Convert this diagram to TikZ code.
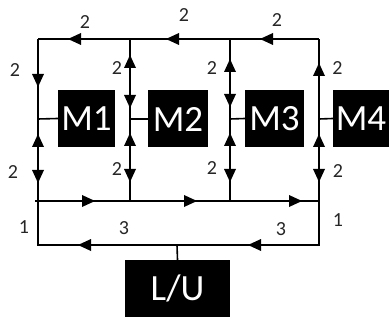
\documentclass[tikz,border=0pt]{standalone}
\usepackage{fontspec}
\setmainfont{Carlito}
\begin{document}
\begin{tikzpicture}[x=1pt,y=-1pt,
  wire/.style={line width=1.6pt,black},
  mbox/.style={fill=black,text=white,inner sep=0pt,minimum height=57pt,font=\fontsize{37}{37}\selectfont},
  lbl/.style={font=\fontsize{20}{20}\selectfont,text=black!85,inner sep=0pt},
  arrR/.pic={\fill (0,0) -- (-13,-6) -- (-13,6) -- cycle;},
  arrL/.pic={\fill (0,0) -- (13,-6) -- (13,6) -- cycle;},
  arrD/.pic={\fill (0,0) -- (-6,-13) -- (6,-13) -- cycle;},
  arrU/.pic={\fill (0,0) -- (-6,13) -- (6,13) -- cycle;}]
\useasboundingbox (0,0) rectangle (390,320);
% junction coordinates
\coordinate (t1) at (38,39);
\coordinate (t2) at (130,39);
\coordinate (t3) at (230,39);
\coordinate (t4) at (319,39);
\coordinate (m0) at (35,201);
\coordinate (m1) at (38,201);
\coordinate (m2) at (130,201);
\coordinate (m3) at (230,201);
\coordinate (m4) at (319,201);
\coordinate (b1) at (38,245);
\coordinate (bu) at (177,245);
\coordinate (b4) at (319,245);
\coordinate (s1) at (38,119);
\coordinate (s2) at (130,119);
\coordinate (s3) at (230,119);
\coordinate (s4) at (319,119);
% boxes
\node[mbox,minimum width=57pt] (M1) at (86.5,118.5) {M1};
\node[mbox,minimum width=60pt] (M2) at (178,119) {M2};
\node[mbox,minimum width=59pt] (M3) at (274.5,118.5) {M3};
\node[mbox,minimum width=56pt] (M4) at (361,118.5) {M4};
\node[mbox,minimum width=105pt] (LU) at (177.5,288.5) {L/U};
% wires
\draw[wire] (t1) -- (t4);
\draw[wire] (t1) -- (b1) -- (b4) -- (t4);
\draw[wire] (m0) -- (m4);
\draw[wire] (t2) -- (m2);
\draw[wire] (t3) -- (m3);
\draw[wire] (s1) -- (M1.west);
\draw[wire] (s2) -- (M2.west);
\draw[wire] (s3) -- (M3.west);
\draw[wire] (s4) -- (M4.west);
\draw[wire] (bu) -- (LU.north);
\draw[line width=2.6pt] (130,62) -- (130,96);
% arrows top line
\pic at (68,39) {arrL};
\pic at (166,39) {arrL};
\pic at (260,39) {arrL};
% verticals above boxes
\pic at (38,87) {arrD};
\pic at (130,55) {arrU};
\pic at (130,108) {arrD};
\pic at (230,59) {arrU};
\pic at (230,107) {arrD};
\pic at (319,63) {arrU};
% verticals below boxes
\pic at (38,134) {arrU};
\pic at (38,183) {arrD};
\pic at (130,133) {arrU};
\pic at (130,182) {arrD};
\pic at (230,133) {arrU};
\pic at (230,182) {arrD};
\pic at (319,134) {arrU};
\pic at (319,182) {arrD};
% middle line
\pic at (95,201) {arrR};
\pic at (197,201) {arrR};
\pic at (302,201) {arrR};
% bottom line
\pic at (78,245) {arrL};
\pic at (248,245) {arrL};
% labels
\node[lbl] (l1) at (85,22) {2};
\node[lbl] (l2) at (184,15) {2};
\node[lbl] (l3) at (277,20) {2};
\node[lbl] (l4) at (15,70) {2};
\node[lbl] (l5) at (117,68) {2};
\node[lbl] (l6) at (212,68) {2};
\node[lbl] (l7) at (337.5,68) {2};
\node[lbl] (l8) at (13,172) {2};
\node[lbl] (l9) at (117,169) {2};
\node[lbl] (l10) at (212,168) {2};
\node[lbl] (l11) at (338,171) {2};
\node[lbl] (l12) at (24,227) {1};
\node[lbl] (l13) at (338,220) {1};
\node[lbl] (l14) at (124,228) {3};
\node[lbl] (l15) at (281,229) {3};
\end{tikzpicture}
\end{document}
